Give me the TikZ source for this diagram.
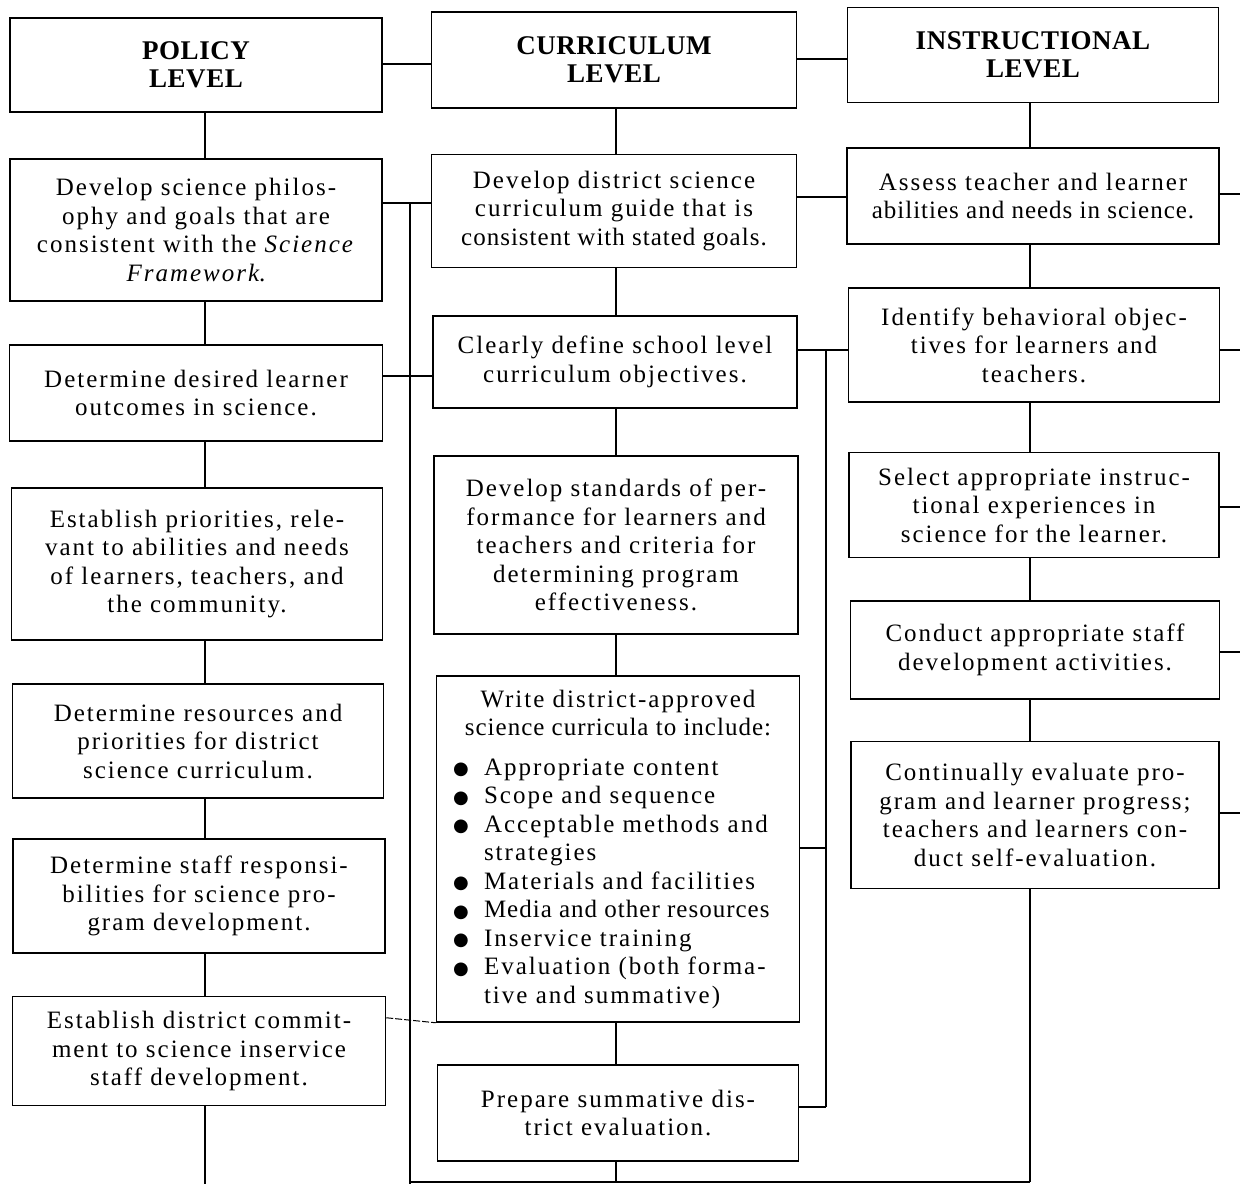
\documentclass[tikz,border=0pt]{standalone}
\usepackage{fontspec}
\setmainfont{Liberation Serif}[LetterSpace=8]
\newfontfamily\headfont{Liberation Serif}[LetterSpace=2]
\newfontfamily\symfont{DejaVu Sans}
\newcommand\bul{\hspace*{5pt}\makebox[31pt][l]{\raisebox{0.5pt}{\symfont\fontsize{18}{18}\selectfont ●}}}
\newcommand\ind{\hspace*{36pt}}
\newcommand\tight{\addfontfeature{LetterSpace=4}}
\begin{document}
\begin{tikzpicture}[x=1pt,y=-1pt,
  box/.style={draw, line width=1.5pt, inner sep=0pt, align=center,
    font=\fontsize{25}{28.5}\selectfont},
  head/.style={box, font=\headfont\fontsize{27}{28}\selectfont\bfseries},
  conn/.style={line width=1.3pt}]
\useasboundingbox (0,0) rectangle (1240,1184);
% ---------- policy column
\node[head, minimum width=372pt, minimum height=94pt] (P0) at (196,65) {POLICY\\LEVEL};
\node[box, minimum width=372pt, minimum height=142pt] (P1) at (196,230) {Develop science philos-\\ophy and goals that are\\consistent with the \textit{Science}\\\textit{Framework}.};
\node[box, minimum width=373pt, minimum height=96pt] (P2) at (196,393) {Determine desired learner\\outcomes in science.};
\node[box, minimum width=371pt, minimum height=152pt] (P3) at (197,564) {Establish priorities, rele-\\vant to abilities and needs\\of learners, teachers, and\\the community.};
\node[box, minimum width=371pt, minimum height=114pt] (P4) at (198,741) {Determine resources and\\priorities for district\\science curriculum.};
\node[box, minimum width=372pt, minimum height=114pt] (P5) at (199,896) {Determine staff responsi-\\bilities for science pro-\\gram development.};
\node[box, minimum width=373pt, minimum height=109pt] (P6) at (199,1051) {Establish district commit-\\ment to science inservice\\staff development.};
% ---------- curriculum column
\node[head, minimum width=365pt, minimum height=96pt] (C0) at (614,60) {CURRICULUM\\LEVEL};
\node[box, minimum width=365pt, minimum height=113pt] (C1) at (614,211) {Develop district science\\curriculum guide that is\\{\tight consistent with stated goals.}};
\node[box, minimum width=364pt, minimum height=92pt] (C2) at (615,362) {Clearly define school level\\curriculum objectives.};
\node[box, minimum width=364pt, minimum height=178pt] (C3) at (616,545) {Develop standards of per-\\formance for learners and\\teachers and criteria for\\determining program\\effectiveness.};
\node[box, minimum width=363pt, minimum height=346pt] (C4) at (618,849) {%
\begin{minipage}{340pt}\centering Write district-approved\\{\tight science curricula to include:}\par\vspace{11pt}
\raggedright
\bul Appropriate content\\
\bul Scope and sequence\\
\bul Acceptable methods and\\
\ind strategies\\
\bul Materials and facilities\\
\bul {\tight Media and other resources}\\
\bul Inservice training\\
\bul Evaluation (both forma-\\
\ind tive and summative)\par
\end{minipage}};
\node[box, minimum width=361pt, minimum height=96pt] (C5) at (618,1113) {Prepare summative dis-\\trict evaluation.};
% ---------- instructional column
\node[head, minimum width=371pt, minimum height=95pt] (I0) at (1033,55) {INSTRUCTIONAL\\LEVEL};
\node[box, minimum width=372pt, minimum height=96pt] (I1) at (1033,196) {Assess teacher and learner\\{\tight abilities and needs in science.}};
\node[box, minimum width=371pt, minimum height=114pt] (I2) at (1034,345) {Identify behavioral objec-\\tives for learners and\\teachers.};
\node[box, minimum width=370pt, minimum height=105pt] (I3) at (1034,505) {Select appropriate instruc-\\tional experiences in\\science for the learner.};
\node[box, minimum width=369pt, minimum height=98pt] (I4) at (1035,650) {Conduct appropriate staff\\development activities.};
\node[box, minimum width=368pt, minimum height=147pt] (I5) at (1035,815) {Continually evaluate pro-\\gram and learner progress;\\teachers and learners con-\\duct self-evaluation.};
% ---------- helper coordinates
\coordinate (px) at (205,0);
\coordinate (cx) at (616,0);
\coordinate (ix) at (1030,0);
\coordinate (hh1) at (0,64);
\coordinate (hh2) at (0,59);
\coordinate (h1) at (0,203);
\coordinate (h2) at (0,376);
\coordinate (h3) at (0,197);
\coordinate (v1top) at (410,203);
\coordinate (v1bot) at (410,1184);
\coordinate (v2top) at (826,350);
\coordinate (v2mid) at (826,848);
\coordinate (v2bot) at (826,1107);
\coordinate (pend) at (205,1184);
\coordinate (b1) at (410,1182);
\coordinate (b2) at (616,1182);
\coordinate (b3) at (1030,1182);
\coordinate (s1) at (1240,194);
\coordinate (s2) at (1240,350);
\coordinate (s3) at (1240,507);
\coordinate (s4) at (1240,652);
\coordinate (s5) at (1240,813);
% ---------- vertical chains
\draw[conn] (P0.south -| px) -- (P1.north -| px);
\draw[conn] (P1.south -| px) -- (P2.north -| px);
\draw[conn] (P2.south -| px) -- (P3.north -| px);
\draw[conn] (P3.south -| px) -- (P4.north -| px);
\draw[conn] (P4.south -| px) -- (P5.north -| px);
\draw[conn] (P5.south -| px) -- (P6.north -| px);
\draw[conn] (P6.south -| px) -- (pend);
\draw[conn] (C0.south -| cx) -- (C1.north -| cx);
\draw[conn] (C1.south -| cx) -- (C2.north -| cx);
\draw[conn] (C2.south -| cx) -- (C3.north -| cx);
\draw[conn] (C3.south -| cx) -- (C4.north -| cx);
\draw[conn] (C4.south -| cx) -- (C5.north -| cx);
\draw[conn] (C5.south -| b2) -- (b2);
\draw[conn] (I0.south -| ix) -- (I1.north -| ix);
\draw[conn] (I1.south -| ix) -- (I2.north -| ix);
\draw[conn] (I2.south -| ix) -- (I3.north -| ix);
\draw[conn] (I3.south -| ix) -- (I4.north -| ix);
\draw[conn] (I4.south -| ix) -- (I5.north -| ix);
\draw[conn] (I5.south -| b3) -- (b3);
% ---------- horizontal links
\draw[conn] (P0.east |- hh1) -- (C0.west |- hh1);
\draw[conn] (C0.east |- hh2) -- (I0.west |- hh2);
\draw[conn] (P1.east |- h1) -- (C1.west |- h1);
\draw[conn] (v1top) -- (v1bot);
\draw[conn] (P2.east |- h2) -- (C2.west |- h2);
\draw[conn] (C1.east |- h3) -- (I1.west |- h3);
\draw[conn] (C2.east |- v2top) -- (I2.west |- v2top);
\draw[conn] (v2top) -- (v2bot);
\draw[conn] (C4.east |- v2mid) -- (v2mid);
\draw[conn] (C5.east |- v2bot) -- (v2bot);
\draw[conn] (b1) -- (b3);
\draw[line width=1pt, dash pattern=on 7pt off 2pt] ([yshift=-22pt]P6.north east) -- (C4.south west);
% ---------- stubs to the right edge
\draw[conn] (I1.east |- s1) -- (s1);
\draw[conn] (I2.east |- s2) -- (s2);
\draw[conn] (I3.east |- s3) -- (s3);
\draw[conn] (I4.east |- s4) -- (s4);
\draw[conn] (I5.east |- s5) -- (s5);
\end{tikzpicture}
\end{document}
